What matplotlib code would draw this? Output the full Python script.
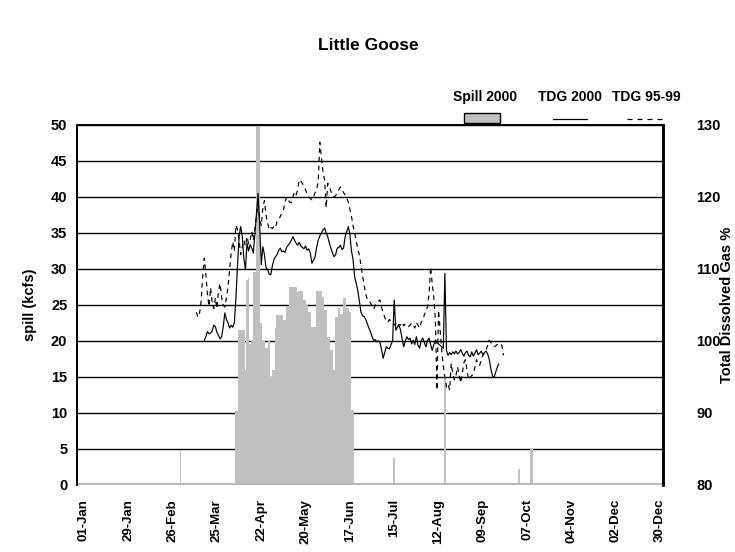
import matplotlib
matplotlib.use("Agg")
import matplotlib.pyplot as plt
from matplotlib.patches import Rectangle
from matplotlib.lines import Line2D
import numpy as np

plt.rcParams['font.family'] = ['Liberation Sans', 'DejaVu Sans']
plt.rcParams['font.weight'] = 'bold'

# ---------------- data ----------------
title = "Little Goose"
tick_days = [0, 28, 56, 84, 112, 140, 168, 196, 224, 252, 280, 308, 336, 364]
tick_labels = ["01-Jan", "29-Jan", "26-Feb", "25-Mar", "22-Apr", "20-May", "17-Jun",
               "15-Jul", "12-Aug", "09-Sep", "07-Oct", "04-Nov", "02-Dec", "30-Dec"]

# Spill 2000 (kcfs): main spill season, consecutive days starting at spill_block_start
spill_block_start = 96
spill_block = [10.3, 10.3, 21.5, 21.5, 21.5, 21.5, 16.0, 28.5, 28.7, 19.6,
               20.0, 29.6, 29.6, 50.0, 50.0, 50.0, 22.5, 20.0, 20.0, 19.0,
               19.0, 20.0, 15.0, 16.0, 16.0, 21.8, 23.6, 23.6, 23.6, 23.6,
               22.9, 22.9, 24.7, 24.7, 27.5, 27.5, 27.5, 27.5, 27.5, 26.8,
               27.0, 27.0, 27.0, 25.7, 25.7, 25.0, 24.0, 24.0, 22.0, 22.0,
               22.0, 27.0, 27.0, 27.0, 27.0, 26.1, 24.3, 24.3, 20.6, 20.6,
               18.7, 18.7, 16.0, 23.4, 23.4, 24.6, 23.8, 23.8, 26.0, 26.0,
               24.6, 24.6, 24.0, 10.4, 10.4]
# isolated spill days
spill_extra_days = [61, 196, 228, 275, 282, 283]
spill_extra_vals = [4.8, 3.7, 15.0, 2.2, 5.0, 5.1]

# TDG 2000 (%), consecutive days starting at tdg2000_start
tdg2000_start = 76
tdg2000 = [100.1, 100.6, 101.3, 101.0, 101.1, 101.4, 102.2, 102.0, 101.2, 100.8,
           100.3, 100.6, 102.0, 103.9, 103.0, 102.5, 101.8, 102.2, 101.9, 102.5,
           106.0, 110.5, 114.5, 115.9, 114.5, 111.5, 109.9, 113.6, 112.5, 113.4,
           112.9, 112.2, 115.0, 117.8, 120.5, 116.0, 110.6, 113.1, 112.0, 110.2,
           109.9, 109.3, 109.2, 110.4, 111.3, 111.7, 112.0, 112.6, 112.9, 112.4,
           112.5, 112.3, 113.0, 113.3, 113.6, 114.0, 114.5, 114.0, 113.6, 113.3,
           113.7, 113.2, 113.0, 112.8, 113.2, 112.6, 112.8, 112.2, 110.8, 111.2,
           111.7, 113.0, 114.0, 114.6, 115.0, 115.4, 115.7, 115.0, 114.5, 113.6,
           112.9, 112.2, 111.7, 112.0, 112.9, 113.0, 113.3, 112.7, 112.9, 114.5,
           115.2, 115.9, 114.8, 112.5, 111.3, 108.9, 108.0, 107.0, 105.5, 104.0,
           103.5, 103.4, 103.0, 102.4, 101.8, 101.3, 100.6, 100.1, 100.2, 99.9,
           100.0, 99.8, 98.8, 97.6, 98.4, 99.2, 99.0, 98.9, 99.5, 100.1,
           105.7, 101.5, 101.9, 102.2, 101.5, 100.3, 99.2, 100.0, 100.6, 100.2,
           100.4, 99.6, 100.1, 99.5, 100.6, 99.4, 99.0, 100.0, 100.4, 99.8,
           99.2, 100.0, 100.4, 99.5, 98.7, 99.5, 100.1, 99.8, 99.6, 99.4,
           99.2, 99.0, 109.4, 98.7, 98.0, 98.4, 98.1, 98.5, 98.2, 98.6,
           98.2, 98.4, 98.8, 98.3, 97.9, 98.4, 98.6, 98.0, 97.8, 98.5,
           97.9, 98.3, 98.8, 98.1, 98.3, 98.6, 98.1, 98.4, 98.6, 98.2,
           97.5, 96.2, 95.2, 94.9, 95.6, 96.3, 96.8]

# TDG 95-99 average (%), consecutive days starting at tdg9599_start
tdg9599_start = 71
tdg9599 = [104.0, 103.3, 103.8, 105.5, 109.0, 111.5, 109.2, 106.5, 104.8, 107.4,
           105.3, 104.5, 106.0, 104.5, 107.0, 108.0, 106.0, 105.0, 104.7, 106.0,
           107.5, 109.9, 112.2, 113.8, 112.5, 116.1, 115.5, 114.0, 112.0, 113.0,
           114.0, 113.2, 114.5, 113.5, 114.0, 115.2, 114.0, 115.5, 117.5, 119.0,
           117.0, 116.0, 118.5, 119.5, 117.5, 116.4, 115.5, 115.8, 115.6, 116.0,
           115.8, 116.6, 116.8, 117.3, 117.8, 118.2, 119.3, 120.0, 119.6, 119.3,
           119.2, 120.0, 120.7, 120.3, 121.0, 122.4, 122.2, 121.9, 121.5, 121.0,
           120.4, 120.0, 119.8, 119.6, 120.0, 120.6, 121.2, 122.0, 127.6, 125.5,
           123.5, 122.4, 118.5, 121.9, 121.5, 120.8, 120.3, 120.0, 120.2, 120.6,
           121.0, 121.4, 121.0, 120.6, 120.3, 119.8, 119.3, 118.3, 117.3, 116.0,
           115.0, 113.9, 112.8, 111.9, 110.5, 109.0, 107.8, 106.5, 105.8, 105.5,
           105.3, 104.8, 104.4, 105.0, 105.3, 105.5, 105.7, 104.7, 103.9, 103.3,
           102.8, 102.6, 103.0, 102.7, 102.4, 102.2, 102.5, 102.0, 102.3, 102.2,
           102.6, 102.1, 102.4, 102.2, 102.0, 102.2, 102.5, 102.3, 101.8, 102.6,
           102.2, 101.8, 102.6, 102.9, 103.6, 104.2, 104.7, 106.5, 110.3, 108.0,
           106.1, 103.0, 93.2, 104.3, 101.5, 98.7, 96.5, 95.0, 93.6, 94.0,
           93.2, 96.9, 95.5, 94.6, 95.2, 96.4, 95.3, 94.2, 95.5, 97.0,
           97.4, 95.8, 94.6, 95.0, 95.2, 95.5, 96.4, 97.4, 96.8, 96.6,
           97.5, 98.0, 98.3, 98.7, 99.4, 100.1, 99.8, 99.5, 99.2, 99.3,
           99.5, 99.7, 99.6, 99.4, 98.0]

# ---------------- assemble ----------------
spill_days = list(range(spill_block_start, spill_block_start + len(spill_block))) + spill_extra_days
spill_vals = spill_block + spill_extra_vals
d2000 = np.arange(tdg2000_start, tdg2000_start + len(tdg2000))
d9599 = np.arange(tdg9599_start, tdg9599_start + len(tdg9599))

W, H = 735, 552
fig = plt.figure(figsize=(W / 100, H / 100), dpi=100)
L, R, T, B = 77, 663, 125, 485
ax = fig.add_axes([L / W, 1 - B / H, (R - L) / W, (B - T) / H])
ax2 = ax.twinx()

ax.set_axisbelow(True)
ax.bar(spill_days, spill_vals, width=1.0, color='#C0C0C0', linewidth=0, zorder=2)
ax.axhline(0, color='#B8B8B8', lw=3, zorder=2.5)
ax.set_ylim(0, 50)
ax.set_yticks(np.arange(0, 51, 5))
ax.yaxis.grid(True, color='black', lw=1.0)
ax.set_xlim(-4.4, 365.8)
ax.set_xticks(tick_days)
ax.set_xticklabels(tick_labels, rotation=90, fontsize=9.5, fontweight='bold')
ax.tick_params(axis='x', length=0, pad=10)
ax.tick_params(axis='y', length=0, pad=7, labelsize=10.5)
for lab in ax.get_yticklabels():
    lab.set_fontweight('bold')

ax2.plot(d2000, tdg2000, color='black', lw=0.85, zorder=3)
ax2.plot(d9599, tdg9599, color='black', lw=0.85, linestyle=(0, (4, 3.5)), zorder=3)
ax2.set_ylim(80, 130)
ax2.set_yticks(np.arange(80, 131, 10))
ax2.tick_params(axis='y', length=0, pad=24, labelsize=10.5)
for lab in ax2.get_yticklabels():
    lab.set_fontweight('bold')

for a in (ax, ax2):
    a.spines['bottom'].set_visible(False)
    a.spines['top'].set_linewidth(1.2)
    a.spines['left'].set_linewidth(1.2)
    a.spines['right'].set_linewidth(1.8)

fig.text(30 / W, 1 - 305 / H, "spill (kcfs)", rotation=90, ha='center', va='center',
         fontsize=10.5, fontweight='bold')
fig.text(727 / W, 1 - 305 / H, "Total Dissolved Gas %", rotation=90, ha='center', va='center',
         fontsize=10.5, fontweight='bold')
fig.text(368 / W, 1 - 45 / H, title, ha='center', va='center', fontsize=12.5, fontweight='bold')

# legend (custom, matching layout)
fig.text(485 / W, 1 - 97 / H, "Spill 2000", ha='center', va='center', fontsize=10, fontweight='bold')
fig.text(570 / W, 1 - 97 / H, "TDG 2000", ha='center', va='center', fontsize=10, fontweight='bold')
fig.text(646 / W, 1 - 97 / H, "TDG 95-99", ha='center', va='center', fontsize=10, fontweight='bold')
fig.add_artist(Rectangle((464 / W, 1 - 123 / H), 36 / W, 10 / H, transform=fig.transFigure,
                         facecolor='#C0C0C0', edgecolor='black', lw=1))
fig.add_artist(Line2D([553 / W, 587 / W], [1 - 119 / H] * 2, transform=fig.transFigure,
                      color='black', lw=0.9))
fig.add_artist(Line2D([627 / W, 664 / W], [1 - 119 / H] * 2, transform=fig.transFigure,
                      color='black', lw=0.9, linestyle=(0, (4, 4))))

fig.savefig("out.png", dpi=100)
